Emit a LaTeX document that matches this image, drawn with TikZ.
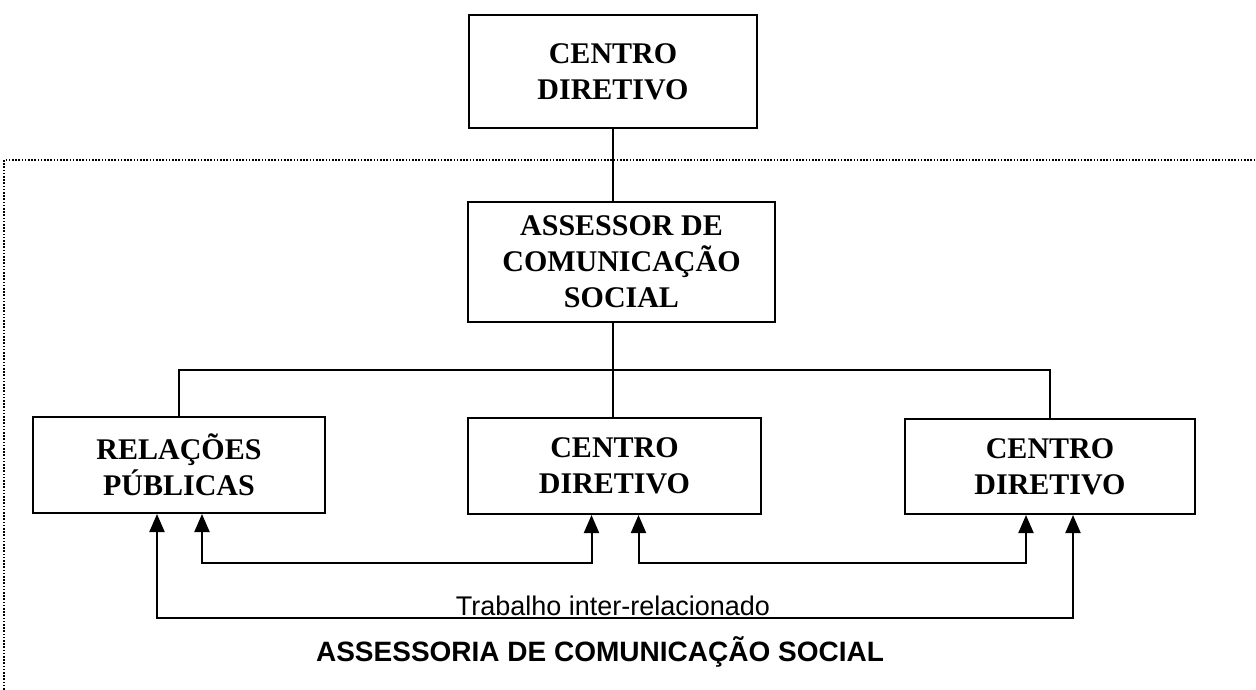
\documentclass[tikz,border=0pt]{standalone}
\usepackage{fontspec}
\setmainfont{Liberation Serif}
\newfontfamily\arial{Liberation Sans}
\usetikzlibrary{arrows.meta,positioning}

\begin{document}
\begin{tikzpicture}[x=1pt, y=-1pt, line width=2pt,
caixa/.style={draw, rectangle, align=center, inner sep=0pt,
  font=\bfseries\fontsize{30}{36}\selectfont},
seta/.style={{Triangle[width=15pt,length=18pt]}-{Triangle[width=15pt,length=18pt]}}]
\useasboundingbox (0,0) rectangle (1256,689);
% moldura pontilhada
\draw [line width=1.8pt, dash pattern=on 1.6pt off 1.6pt] (4,1000) -- (4,160) -- (1300,160);
\node [caixa, minimum width=288, minimum height=113] (centro) at (613,71.5) {CENTRO\\DIRETIVO};
\node [caixa, minimum width=307, minimum height=120] (assessor) at (621.5,262) {ASSESSOR DE\\COMUNICA\c{C}\~AO\\SOCIAL};
\node [caixa, minimum width=292, minimum height=96] (rp) at (179,465) {RELA\c{C}\~OES\\P\'UBLICAS};
\node [caixa, minimum width=293, minimum height=96] (cd1) at (614.5,466) {CENTRO\\DIRETIVO};
\node [caixa, minimum width=290, minimum height=95] (cd2) at (1050,466.5) {CENTRO\\DIRETIVO};
\coordinate (bus) at (613,370);
\node [anchor=base, font=\arial\fontsize{27}{30}\selectfont] (trab) at (613,615) {Trabalho inter-relacionado};
\node [anchor=base, font=\arial\bfseries\fontsize{28}{34}\selectfont] (asc) at (600,661) {ASSESSORIA DE COMUNICA\c{C}\~AO SOCIAL};
\draw (centro.south) -- (centro.south |- assessor.north);
\draw (bus |- assessor.south) -- (bus |- cd1.north);
\draw (rp.north) |- (bus) -| (cd2.north);
\path [seta]
([xshift=23]rp.south) edge [to path={-- ++(0,49) -| (\tikztotarget)}] ([xshift=-23]cd1.south)
([xshift=24]cd1.south) edge [to path={-- ++(0,48) -| (\tikztotarget)}] ([xshift=-24]cd2.south)
([xshift=-22]rp.south) edge [to path={-- ++(0,104) -| (\tikztotarget)}] ([xshift=23]cd2.south);
\end{tikzpicture}
\end{document}
